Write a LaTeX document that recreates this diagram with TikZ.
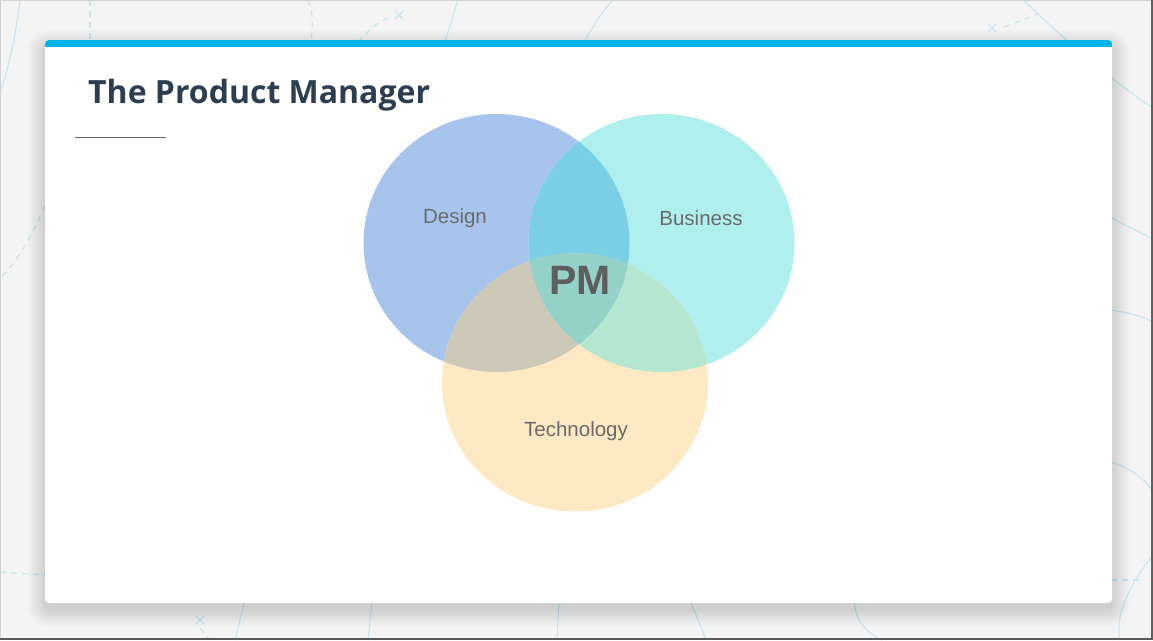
\documentclass[tikz,border=0pt]{standalone}
\usepackage{fontspec}
\setmainfont{Liberation Sans}
\newfontfamily\titlefont{Open Sans}

\definecolor{pagebg}{HTML}{F4F4F4}
\definecolor{decoblue}{HTML}{C6E5F1}
\definecolor{barblue}{HTML}{00B4E8}
\definecolor{titleink}{HTML}{2C3E50}
\definecolor{labelink}{HTML}{6A6A6A}
\definecolor{pmink}{HTML}{5E5E5E}
\definecolor{designcol}{HTML}{A7C5EC}
\definecolor{businesscol}{HTML}{AFF0EF}
\definecolor{techcol}{HTML}{FDEAC4}
\definecolor{dbcol}{HTML}{7ACFE5}
\definecolor{dtcol}{HTML}{CDC9B8}
\definecolor{btcol}{HTML}{B4E7D0}
\definecolor{allcol}{HTML}{94D1C9}

\tikzset{
  deco/.style={draw=decoblue, line width=1.1pt},
  decodash/.style={deco, dash pattern=on 6pt off 5pt},
  xmark/.pic={\draw[deco] (-4,-4) -- (4,4) (-4,4) -- (4,-4);},
  setlabel/.style={font=\fontsize{20.5}{24}\selectfont, text=labelink, inner sep=0pt},
  vennshape/.style={x radius=133pt, y radius=129pt},
}

\begin{document}
\begin{tikzpicture}[x=1pt, y=-1pt]
\useasboundingbox (0,0) rectangle (1153,640);
\fill[pagebg] (0,0) rectangle (1153,640);

% faint background doodles
\draw[deco] (20,0) .. controls (15,40) and (8,70) .. (0,93);
\draw[decodash] (90,0) -- (90,45);
\draw[decodash] (308,0) .. controls (313,15) .. (311,45);
\draw[decodash] (358,42) .. controls (370,28) and (380,20) .. (392,17);
\pic at (399,15) {xmark};
\draw[deco] (458,0) -- (444,45);
\draw[deco] (613,0) .. controls (600,15) .. (582,45);
\draw[deco] (1023,0) .. controls (1060,35) and (1110,80) .. (1153,108);
\draw[decodash] (1004,27) -- (1038,14);
\pic at (992,28) {xmark};
\draw[deco] (1080,202) -- (1153,239);
\draw[deco] (1090,308) .. controls (1120,310) and (1140,315) .. (1153,322);
\draw[deco] (1090,458) .. controls (1125,462) and (1145,478) .. (1153,492);
\draw[decodash] (1100,580) -- (1142,580);
\draw[deco] (1153,555) .. controls (1125,590) and (1115,620) .. (1120,640);
\draw[decodash] (62,165) .. controls (40,220) and (22,258) .. (0,278);
\draw[decodash] (0,572) -- (60,576);
\pic at (200,620) {xmark};
\draw[decodash] (200,628) -- (208,638);
\draw[deco] (245,600) -- (235,640);
\draw[deco] (372,600) -- (368,640);
\draw[deco] (559,600) -- (557,640);
\draw[deco] (690,600) -- (706,640);
\draw[deco] (854,600) .. controls (855,620) and (865,632) .. (882,640);

% outer frame
\draw[draw=black!18, line width=1pt] (0.5,0.5) rectangle (1152.5,639.5);
\draw[draw=black!62, line width=1.6pt] (1152.2,0) -- (1152.2,640);
\draw[draw=black!65, line width=2pt] (0,639) -- (1153,639);

% soft card shadow, built from stacked translucent layers
\foreach \s in {1,...,18} {
  \fill[black, opacity=0.009, rounded corners=4pt+\s pt]
    (45-\s,40-\s+8) rectangle (1112+\s,603+\s+6);
}

% card and its blue top bar
\fill[white, rounded corners=4pt] (45,40) rectangle (1112,603);
\begin{scope}
  \clip[rounded corners=4pt] (45,40) rectangle (1112,603);
  \fill[barblue] (45,40) rectangle (1112,47);
\end{scope}

% title and rule
\node[anchor=base west, inner sep=0pt, text=titleink,
      font=\titlefont\bfseries\fontsize{32}{38}\selectfont] (title) at (88,103) {The Product Manager};
\coordinate (ruleL) at (75,137);
\coordinate (ruleR) at (166,137);
\draw[black!60, line width=1pt] (ruleL) -- (ruleR);

% Venn diagram
\coordinate (D) at (496.5,243);
\coordinate (B) at (661.5,243);
\coordinate (T) at (575,382.5);
\fill[designcol] (D) ellipse[vennshape];
\fill[businesscol] (B) ellipse[vennshape];
\fill[techcol] (T) ellipse[vennshape];
\begin{scope}
  \clip (D) ellipse[vennshape];
  \fill[dbcol] (B) ellipse[vennshape];
  \fill[dtcol] (T) ellipse[vennshape];
\end{scope}
\begin{scope}
  \clip (B) ellipse[vennshape];
  \fill[btcol] (T) ellipse[vennshape];
\end{scope}
\begin{scope}
  \clip (D) ellipse[vennshape];
  \clip (B) ellipse[vennshape];
  \fill[allcol] (T) ellipse[vennshape];
\end{scope}

\node[setlabel] (design) at (455,218) {Design};
\node[setlabel] (business) at (701,218) {Business};
\node[setlabel] (tech) at (576,431) {Technology};
\node[inner sep=0pt, text=pmink, font=\bfseries\fontsize{41}{48}\selectfont] (pm) at (580,280) {PM};
\end{tikzpicture}
\end{document}
